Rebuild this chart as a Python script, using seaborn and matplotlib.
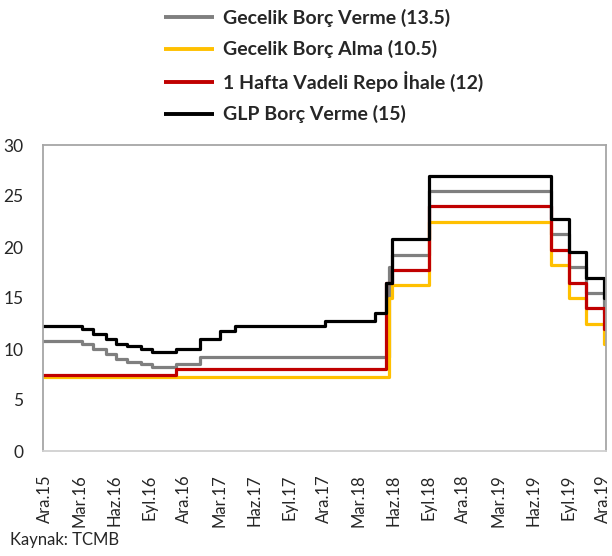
import matplotlib
matplotlib.use("Agg")
import matplotlib.pyplot as plt
import seaborn as sns
import pandas as pd

# Policy rates (%), change dates and new levels
gece_verme_dates = ["2015-12-13", "2016-03-24", "2016-04-21", "2016-05-24", "2016-06-21",
                    "2016-07-19", "2016-08-23", "2016-09-22", "2016-11-24", "2017-01-24",
                    "2018-06-01", "2018-06-07", "2018-09-13", "2019-07-25", "2019-09-12",
                    "2019-10-24", "2019-12-12"]
gece_verme = [10.75, 10.5, 10.0, 9.5, 9.0, 8.75, 8.5, 8.25, 8.5, 9.25,
              18.0, 19.25, 25.5, 21.25, 18.0, 15.5, 13.5]

gece_alma_dates = ["2015-12-13", "2018-06-01", "2018-06-07", "2018-09-13", "2019-07-25",
                   "2019-09-12", "2019-10-24", "2019-12-12"]
gece_alma = [7.25, 15.0, 16.25, 22.5, 18.25, 15.0, 12.5, 10.5]

repo_dates = ["2015-12-13", "2016-11-24", "2018-05-23", "2018-06-07", "2018-09-13",
              "2019-07-25", "2019-09-12", "2019-10-24", "2019-12-12"]
repo = [7.5, 8.0, 16.5, 17.75, 24.0, 19.75, 16.5, 14.0, 12.0]

glp_dates = ["2015-12-13", "2016-03-24", "2016-04-21", "2016-05-24", "2016-06-21",
             "2016-07-19", "2016-08-23", "2016-09-22", "2016-11-24", "2017-01-24",
             "2017-03-16", "2017-04-26", "2017-12-14", "2018-04-25", "2018-05-23",
             "2018-06-07", "2018-09-13", "2019-07-25", "2019-09-12", "2019-10-24",
             "2019-12-12"]
glp = [12.25, 12.0, 11.5, 11.0, 10.5, 10.25, 10.0, 9.75, 10.0, 11.0,
       11.75, 12.25, 12.75, 13.5, 16.5, 20.75, 27.0, 22.75, 19.5, 17.0, 15.0]

start_date = "2015-12-13"
end_date = "2019-12-16"

series_names = ["Gecelik Borç Verme (13.5)", "Gecelik Borç Alma (10.5)",
                "1 Hafta Vadeli Repo İhale (12)", "GLP Borç Verme (15)"]
colors = ["#7f7f7f", "#ffc000", "#c00000", "#000000"]

tick_labels = ["Ara.15", "Mar.16", "Haz.16", "Eyl.16", "Ara.16", "Mar.17", "Haz.17",
               "Eyl.17", "Ara.17", "Mar.18", "Haz.18", "Eyl.18", "Ara.18", "Mar.19",
               "Haz.19", "Eyl.19", "Ara.19"]
# quarterly labels, evenly spaced like the Excel axis
tick_dates = pd.date_range("2015-12-18", "2019-12-08", periods=len(tick_labels))

# long table for seaborn
frames = []
for name, d, v in zip(series_names,
                      [gece_verme_dates, gece_alma_dates, repo_dates, glp_dates],
                      [gece_verme, gece_alma, repo, glp]):
    part = pd.DataFrame({"tarih": pd.to_datetime(d + [end_date]),
                         "oran": v + [v[-1]],
                         "seri": name})
    frames.append(part)
df = pd.concat(frames, ignore_index=True)

sns.set_theme(style="white")
plt.rcParams["font.family"] = ["Lato", "DejaVu Sans"]

fig = plt.figure(figsize=(6.12, 5.56), dpi=100)
ax = fig.add_axes([43 / 612, 1 - 451 / 556, (606 - 43) / 612, (451 - 145) / 556])

sns.lineplot(data=df, x="tarih", y="oran", hue="seri", hue_order=series_names,
             palette=colors, drawstyle="steps-post", estimator=None, linewidth=2.3,
             legend=False, ax=ax)

ax.set_xlim(pd.Timestamp(start_date), pd.Timestamp(end_date))
ax.set_ylim(0, 30)
ax.set_yticks(range(0, 31, 5))
ax.set_xticks(tick_dates)
ax.set_xticklabels(tick_labels, rotation=90, fontsize=12)
ax.tick_params(axis="y", labelsize=12.5, pad=14, length=0)
ax.tick_params(axis="x", pad=17, length=0)
ax.set_xlabel("")
ax.set_ylabel("")
for s in ax.spines.values():
    s.set_color("#a6a6a6")
    s.set_linewidth(1.3)
ax.spines["bottom"].set_color("#d0d0d0")

handles = [plt.Line2D([], [], color=c, linewidth=2.8, solid_capstyle="butt") for c in colors]
fig.legend(handles, series_names, loc="upper left", bbox_to_anchor=(150 / 612, 1.008),
           frameon=False, prop={"weight": "bold", "size": 14},
           handlelength=2.6, handletextpad=0.45, labelspacing=0.67, borderpad=0.2)

fig.text(10 / 612, 1 - 540 / 556, "Kaynak: TCMB", fontsize=12, va="center", ha="left")

fig.savefig("out.png", dpi=100)
